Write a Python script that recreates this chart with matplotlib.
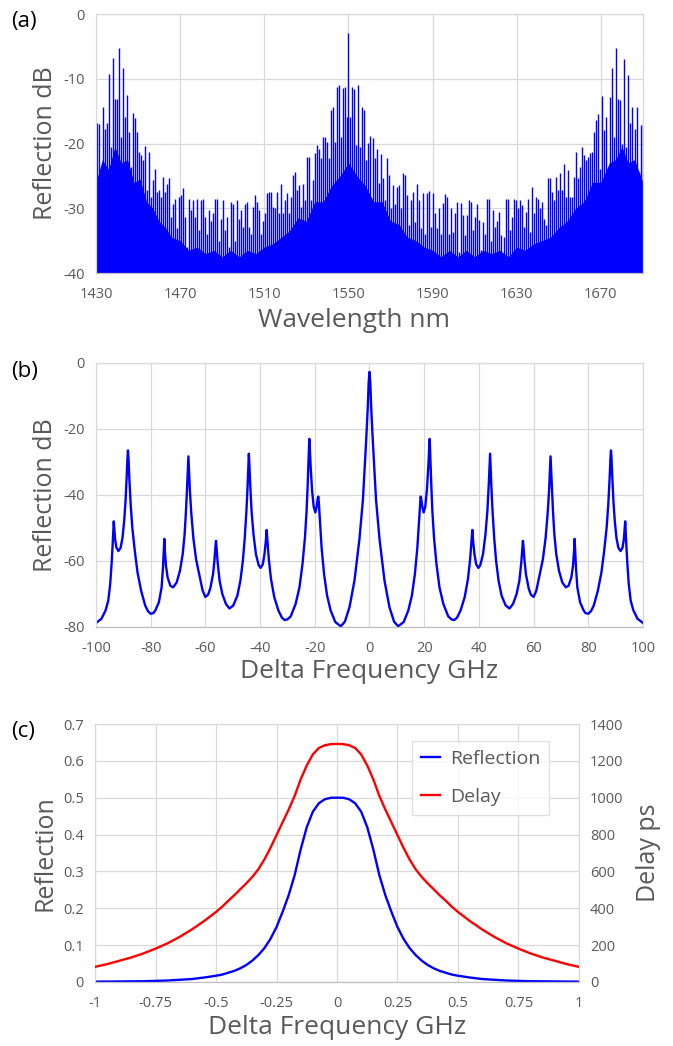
import numpy as np
import matplotlib
matplotlib.use('Agg')
from matplotlib import pyplot as plt

plt.rcParams['font.family'] = ['Open Sans', 'DejaVu Sans']
plt.rcParams['axes.unicode_minus'] = False

txt = '#595959'
grid_c = '#d9d9d9'

# ---- (a) reflection spectrum, spike tops in dB ----
left_tops = [
    -16.9, -17.0, -24.4, -14.3, -17.7, -16.9, -9.3, -20.5, -6.8, -13.2,
    -13.2, -5.3, -19.0, -8.4, -15.9, -12.5, -18.2, -23.6, -15.3, -16.1,
    -18.2, -21.3, -21.8, -22.6, -20.4, -27.2, -21.3, -28.2, -25.7, -23.9,
    -27.5, -27.2, -28.2, -25.2, -27.5, -26.2, -25.4, -31.3, -29.3, -28.5,
    -33.1, -28.2, -28.0, -26.8, -31.3, -36.0, -28.5, -30.3, -28.8, -31.3,
    -28.5, -33.4, -28.8, -28.5, -31.3, -33.9, -30.3, -31.9, -30.8, -28.5,
    -28.5, -35.0, -31.6, -28.8, -33.4, -31.3, -36.0, -29.0, -29.3, -35.0,
    -28.8, -31.6, -30.3, -32.9, -29.3, -29.1, -32.9, -33.9, -29.8, -28.0,
    -29.1, -30.3, -33.9, -31.9, -30.8, -27.7, -27.5, -27.5, -29.8, -30.0,
    -27.5, -30.8, -26.2, -30.8, -28.8, -27.7, -30.8, -28.2, -24.9, -24.4,
    -27.2, -26.4, -29.8, -26.2, -28.8, -22.1, -22.1, -28.7, -25.7, -21.5,
    -20.3, -20.8, -22.3, -19.0, -19.0, -19.7, -22.3, -14.8, -14.3, -19.7,
    -11.2, -11.0, -19.0, -11.5, -11.2, -15.9]
center_wl = 1550.0
center_top = -2.9
right_tops = [
    -15.9, -11.3, -11.6, -20.3, -11.0, -20.5, -14.4, -14.8, -22.6, -19.9,
    -18.9, -19.1, -22.3, -20.8, -26.1, -21.6, -25.4, -28.8, -22.3, -24.9,
    -30.0, -26.4, -29.3, -26.7, -26.4, -30.0, -24.5, -24.9, -28.0, -32.6,
    -28.8, -27.5, -32.1, -26.2, -28.8, -33.1, -27.6, -33.9, -27.7, -27.3,
    -32.9, -27.6, -30.8, -33.1, -30.0, -33.9, -29.2, -27.8, -28.2, -33.9,
    -30.0, -33.7, -30.8, -29.0, -36.8, -29.2, -31.1, -34.2, -31.1, -28.8,
    -29.0, -33.4, -31.3, -29.3, -31.8, -36.5, -32.1, -33.9, -28.5, -28.5,
    -35.0, -30.3, -32.9, -31.9, -30.6, -34.2, -34.4, -28.5, -28.5, -33.4,
    -31.3, -28.5, -28.8, -30.0, -28.8, -29.5, -32.9, -30.6, -28.5, -33.7,
    -26.7, -30.8, -28.2, -28.5, -30.0, -29.0, -31.6, -32.6, -25.3, -25.4,
    -27.5, -28.8, -25.2, -27.2, -24.6, -27.2, -23.2, -28.2, -24.1, -28.2,
    -28.2, -25.2, -21.3, -25.4, -23.6, -20.5, -21.8, -22.6, -22.1, -21.5,
    -21.3, -18.2, -16.3, -15.4, -23.9, -12.7, -17.9, -15.9, -25.2, -12.8,
    -8.4, -19.0, -5.3, -13.2, -13.3, -20.0, -6.9, -20.5, -9.4, -16.9,
    -14.3, -17.7, -14.3, -24.4, -17.2, -17.0]
left_wl = np.linspace(1430.5, 1549.1, len(left_tops))
right_wl = np.linspace(1550.9, 1689.8, len(right_tops))

# solid (unresolved) base level under the spikes
floor_wl = [1430, 1433, 1436, 1439, 1442, 1445, 1448, 1451, 1454, 1457,
            1460, 1463, 1466, 1470, 1474, 1478, 1482, 1486, 1490, 1494,
            1498, 1502, 1506, 1510, 1514, 1518, 1522, 1526, 1530, 1534,
            1538, 1542, 1546, 1550, 1554, 1558, 1562, 1566, 1570, 1574,
            1578, 1582, 1586, 1590, 1594, 1598, 1602, 1606, 1610, 1614,
            1618, 1622, 1626, 1630, 1634, 1638, 1642, 1646, 1650, 1654,
            1658, 1662, 1666, 1670, 1674, 1677, 1680, 1683, 1686, 1690]
floor_db = [-26, -22.5, -24, -20.5, -23, -22.5, -26, -25.5, -29, -30,
            -32, -33, -34.5, -35, -36.5, -36, -37, -36.5, -37.5, -36.5,
            -37.5, -36.5, -37, -36, -35.5, -34.5, -33.5, -31.5, -32, -29,
            -29, -26.5, -25, -23, -25, -26.5, -29, -29, -32, -32.5,
            -34.5, -35, -36, -36.5, -37.5, -36.5, -37.5, -36.5, -37.5, -36.5,
            -37, -36.5, -37.5, -36, -36.5, -35.5, -35, -34.5, -33, -32,
            -30, -29, -26, -26, -23, -22.5, -20.5, -23, -22.5, -26]

# ---- (b) reflection vs delta frequency ----
b_freq_left = [
    -100, -98, -96.5, -95.5, -94.8, -94.3, -93.9, -93.6, -93.5, -93.3,
    -93.0, -92.5, -91.8, -91.0, -90.3, -89.7, -89.2, -88.8, -88.5, -88.3,
    -88.1, -87.8, -87.3, -86.7, -85.8, -84.8, -83.5, -82.0, -81.0, -80.0,
    -79.0, -78.3, -77.0, -76.0, -75.5, -75.2, -75.0, -74.8, -74.4, -73.8,
    -72.8, -71.8, -70.5, -69.3, -68.3, -67.6, -67.1, -66.7, -66.4, -66.2,
    -66.0, -65.7, -65.2, -64.4, -63.4, -62.0, -61.0, -60.0, -59.0, -58.2,
    -57.2, -56.7, -56.3, -56.1, -55.9, -55.5, -54.8, -53.8, -52.5, -51.2,
    -49.8, -48.3, -47.2, -46.3, -45.6, -45.0, -44.6, -44.3, -44.1, -43.9,
    -43.6, -43.1, -42.4, -41.5, -40.5, -39.8, -39.0, -38.4, -37.9, -37.6,
    -37.3, -36.8, -36.0, -34.8, -33.3, -32.0, -31.0, -30.0, -28.8, -27.0,
    -25.6, -24.5, -23.6, -23.0, -22.6, -22.3, -22.1, -22.0, -21.8, -21.5,
    -21.0, -20.4, -19.8, -19.3, -18.9, -18.7, -18.5, -18.1, -17.5, -16.6,
    -15.5, -14.2, -12.5, -10.5, -9.0, -7.3, -5.5, -3.7, -2.4, -1.2,
    -0.6, -0.3]
b_db_left = [
    -78.8, -77.5, -75.0, -72.0, -67.0, -61.0, -55.0, -49.5, -48.0, -50.0,
    -53.5, -56.0, -57.0, -56.0, -53.0, -48.0, -42.0, -35.0, -29.0, -26.5,
    -29.0, -35.0, -43.0, -50.0, -57.0, -63.5, -69.0, -73.5, -75.2, -76.0,
    -75.8, -75.0, -72.5, -68.0, -62.0, -57.0, -53.3, -57.0, -61.5, -65.0,
    -67.5, -68.0, -66.5, -63.0, -58.0, -52.0, -45.0, -38.0, -32.0, -28.3,
    -32.0, -38.0, -45.0, -53.0, -59.5, -65.0, -69.0, -70.9, -70.2, -68.3,
    -64.0, -60.0, -55.5, -53.9, -56.0, -60.5, -66.0, -70.0, -73.0, -74.4,
    -73.5, -70.5, -66.0, -60.0, -53.0, -45.0, -38.0, -32.0, -27.5, -31.0,
    -37.0, -45.0, -52.0, -58.0, -61.3, -62.1, -61.0, -58.0, -54.0, -50.6,
    -54.0, -59.5, -65.5, -71.0, -75.0, -77.2, -77.9, -77.7, -76.8, -73.0,
    -68.0, -61.0, -53.0, -45.0, -37.0, -30.0, -25.0, -23.0, -26.0, -31.5,
    -38.5, -43.5, -45.3, -43.5, -41.0, -40.5, -42.5, -48.0, -56.0, -64.0,
    -70.5, -75.0, -78.5, -79.8, -78.4, -74.0, -66.0, -53.6, -41.5, -23.3,
    -13.0, -6.0]
b_freq_center = [0.0]
b_db_center = [-2.7]
b_freq_right = [
    0.3, 0.6,
    1.2, 2.4, 3.7, 5.5, 7.3, 9.0, 10.5, 12.5, 14.2, 15.5,
    16.6, 17.5, 18.1, 18.5, 18.7, 18.9, 19.3, 19.8, 20.4, 21.0,
    21.5, 21.8, 22.0, 22.1, 22.3, 22.6, 23.0, 23.6, 24.5, 25.6,
    27.0, 28.8, 30.0, 31.0, 32.0, 33.3, 34.8, 36.0, 36.8, 37.3,
    37.6, 37.9, 38.4, 39.0, 39.8, 40.5, 41.5, 42.4, 43.1, 43.6,
    43.9, 44.1, 44.3, 44.6, 45.0, 45.6, 46.3, 47.2, 48.3, 49.8,
    51.2, 52.5, 53.8, 54.8, 55.5, 55.9, 56.1, 56.3, 56.7, 57.2,
    58.2, 59.0, 60.0, 61.0, 62.0, 63.4, 64.4, 65.2, 65.7, 66.0,
    66.2, 66.4, 66.7, 67.1, 67.6, 68.3, 69.3, 70.5, 71.8, 72.8,
    73.8, 74.4, 74.8, 75.0, 75.2, 75.5, 76.0, 77.0, 78.3, 79.0,
    80.0, 81.0, 82.0, 83.5, 84.8, 85.8, 86.7, 87.3, 87.8, 88.1,
    88.3, 88.5, 88.8, 89.2, 89.7, 90.3, 91.0, 91.8, 92.5, 93.0,
    93.3, 93.5, 93.6, 93.9, 94.3, 94.8, 95.5, 96.5, 98.0, 100.0]
b_db_right = [
    -6.0, -13.0,
    -23.3, -41.5, -53.6, -66.0, -74.0, -78.4, -79.8, -78.5, -75.0, -70.5,
    -64.0, -56.0, -48.0, -42.5, -40.5, -41.0, -43.5, -45.3, -43.5, -38.5,
    -31.5, -26.0, -23.0, -25.0, -30.0, -37.0, -45.0, -53.0, -61.0, -68.0,
    -73.0, -76.8, -77.7, -77.9, -77.2, -75.0, -71.0, -65.5, -59.5, -54.0,
    -50.6, -54.0, -58.0, -61.0, -62.1, -61.3, -58.0, -52.0, -45.0, -37.0,
    -31.0, -27.5, -32.0, -38.0, -45.0, -53.0, -60.0, -66.0, -70.5, -73.5,
    -74.4, -73.0, -70.0, -66.0, -60.5, -56.0, -53.9, -55.5, -60.0, -64.0,
    -68.3, -70.2, -70.9, -69.0, -65.0, -59.5, -53.0, -45.0, -38.0, -32.0,
    -28.3, -32.0, -38.0, -45.0, -52.0, -58.0, -63.0, -66.5, -68.0, -67.5,
    -65.0, -61.5, -57.0, -53.3, -57.0, -62.0, -68.0, -72.5, -75.0, -75.8,
    -76.0, -75.2, -73.5, -69.0, -63.5, -57.0, -50.0, -43.0, -35.0, -29.0,
    -26.5, -29.0, -35.0, -42.0, -48.0, -53.0, -56.0, -57.0, -56.0, -53.5,
    -50.0, -48.0, -49.5, -55.0, -61.0, -67.0, -72.0, -75.0, -77.5, -78.8]

# ---- (c) single resonance: reflection and delay ----
c_freq = [-1, -0.95, -0.9, -0.85, -0.8, -0.75, -0.7, -0.65, -0.6, -0.55,
          -0.5, -0.475, -0.45, -0.425, -0.4, -0.375, -0.35, -0.325, -0.3,
          -0.275, -0.25, -0.225, -0.2, -0.175, -0.15, -0.125, -0.1, -0.075,
          -0.05, -0.025, 0,
          0.025, 0.05, 0.075, 0.1, 0.125, 0.15, 0.175, 0.2, 0.225, 0.25,
          0.275, 0.3, 0.325, 0.35, 0.375, 0.4, 0.425, 0.45, 0.475, 0.5,
          0.55, 0.6, 0.65, 0.7, 0.75, 0.8, 0.85, 0.9, 0.95, 1]
c_refl = [0.001, 0.0012, 0.0015, 0.0018, 0.002, 0.003, 0.004, 0.006, 0.008, 0.012,
          0.017, 0.02, 0.025, 0.03, 0.037, 0.046, 0.058, 0.073, 0.092,
          0.117, 0.149, 0.19, 0.235, 0.29, 0.36, 0.42, 0.462, 0.485,
          0.496, 0.5, 0.5,
          0.5, 0.496, 0.485, 0.462, 0.42, 0.36, 0.29, 0.235, 0.19, 0.149,
          0.117, 0.092, 0.073, 0.058, 0.046, 0.037, 0.03, 0.025, 0.02, 0.017,
          0.012, 0.008, 0.006, 0.004, 0.003, 0.002, 0.0018, 0.0015, 0.0012, 0.001]
c_delay = [82, 97, 115, 133, 155, 181, 210, 245, 285, 330,
           380, 408, 440, 470, 503, 535, 570, 612, 665,
           728, 797, 866, 935, 1010, 1100, 1175, 1235, 1270,
           1285, 1291, 1292,
           1291, 1285, 1270, 1235, 1175, 1100, 1010, 935, 866, 797,
           728, 665, 612, 570, 535, 503, 470, 440, 408, 380,
           330, 285, 245, 210, 181, 155, 133, 115, 97, 82]


def style(ax):
    ax.set_axisbelow(True)
    ax.grid(True, color=grid_c, lw=0.9)
    for s in ax.spines.values():
        s.set_color(grid_c)
        s.set_linewidth(0.9)
    ax.spines['bottom'].set_color('#bfbfbf')
    ax.tick_params(length=0, labelsize=10.5, colors=txt)
    ax.tick_params(axis='x', pad=10)
    ax.tick_params(axis='y', pad=8)


fig = plt.figure(figsize=(6.73, 10.46), dpi=100)

# (a)
ax = fig.add_axes([0.1426, 0.739, 0.8128, 0.2476])
ax.fill_between(floor_wl, -40, floor_db, color='#0000ff', lw=0)
ax.vlines(left_wl, -40, left_tops, color='#0000ff', lw=1.0)
ax.vlines([center_wl], -40, [center_top], color='#0000ff', lw=1.0)
ax.vlines(right_wl, -40, right_tops, color='#0000ff', lw=1.0)
ax.set_xlim(1430, 1690)
ax.set_ylim(-40, 0)
ax.set_xticks([1430, 1470, 1510, 1550, 1590, 1630, 1670])
ax.set_yticks([0, -10, -20, -30, -40])
style(ax)
ax.set_xlabel('Wavelength nm', fontsize=19, color=txt)
ax.xaxis.set_label_coords((354 - 96) / 547, -(320 - 273) / 259)
ax.xaxis.label.set_va('center')
ax.set_ylabel('Reflection dB', fontsize=18, color=txt, labelpad=4)
fig.text(11 / 673, 1 - 22 / 1046, '(a)', fontsize=16, va='center')

# (b)
ax = fig.add_axes([0.1426, 0.4006, 0.8128, 0.2524])
bf = b_freq_left + b_freq_center + b_freq_right
bd = b_db_left + b_db_center + b_db_right
ax.plot(bf, bd, color='#0000ff', lw=1.7)
ax.set_xlim(-100, 100)
ax.set_ylim(-80, 0)
ax.set_xticks(range(-100, 101, 20))
ax.set_yticks([0, -20, -40, -60, -80])
style(ax)
ax.set_xlabel('Delta Frequency GHz', fontsize=19, color=txt, labelpad=2)
ax.set_ylabel('Reflection dB', fontsize=18, color=txt, labelpad=4)
fig.text(11 / 673, 1 - 372 / 1046, '(b)', fontsize=16, va='center')

# (c)
ax = fig.add_axes([0.1412, 0.0612, 0.7191, 0.2466])
l1, = ax.plot(c_freq, c_refl, color='#0000ff', lw=1.7, label='Reflection')
ax.set_xlim(-1, 1)
ax.set_ylim(0, 0.7)
ax.set_xticks([-1, -0.75, -0.5, -0.25, 0, 0.25, 0.5, 0.75, 1])
ax.set_xticklabels(['-1', '-0.75', '-0.5', '-0.25', '0', '0.25', '0.5', '0.75', '1'])
ax.set_yticks([0, 0.1, 0.2, 0.3, 0.4, 0.5, 0.6, 0.7])
ax.set_yticklabels(['0', '0.1', '0.2', '0.3', '0.4', '0.5', '0.6', '0.7'])
style(ax)
ax.set_xlabel('Delta Frequency GHz', fontsize=19, color=txt, labelpad=3)
ax.set_ylabel('Reflection', fontsize=18, color=txt, labelpad=4)
ax2 = ax.twinx()
l2, = ax2.plot(c_freq, c_delay, color='#ff0000', lw=1.7, label='Delay')
ax2.set_ylim(0, 1400)
ax2.set_yticks(range(0, 1401, 200))
for s in ax2.spines.values():
    s.set_visible(False)
ax2.tick_params(length=0, labelsize=10.5, colors=txt, pad=8)
ax2.set_ylabel('Delay ps', fontsize=18, color=txt, labelpad=9)
leg = ax2.legend([l1, l2], ['Reflection', 'Delay'], loc='upper right',
                 bbox_to_anchor=(0.938, 0.934), borderaxespad=0,
                 fontsize=14, frameon=True, fancybox=False, edgecolor=grid_c,
                 handlelength=1.0, labelspacing=1.05, borderpad=0.45,
                 handletextpad=0.5)
for t in leg.get_texts():
    t.set_color(txt)
fig.text(11 / 673, 1 - 732 / 1046, '(c)', fontsize=16, va='center')

fig.savefig('out.png', dpi=100)
